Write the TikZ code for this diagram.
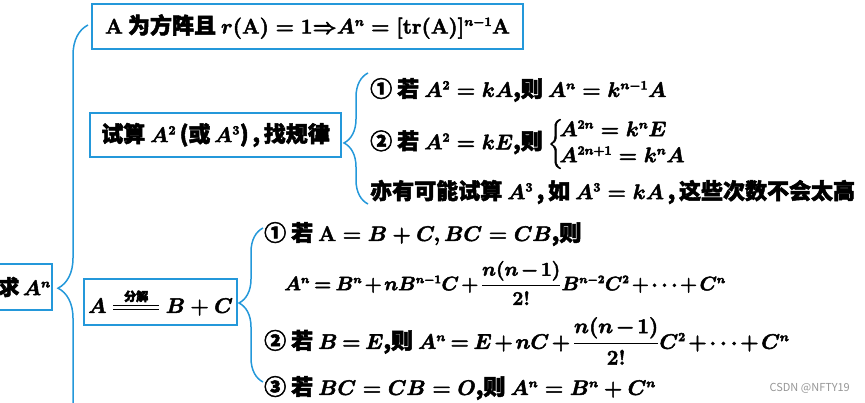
\RequirePackage{fix-cm}
\documentclass[tikz,border=0pt]{standalone}
\usepackage{amsmath}
\usepackage[no-math]{fontspec}
\setmainfont{Noto Sans CJK SC}
\usepackage{tikz}
\definecolor{mapblue}{RGB}{36,152,218}
\definecolor{markgray}{RGB}{150,150,150}
\usetikzlibrary{decorations.pathreplacing}
\DeclareMathSizes{22}{21}{12.5}{10}
\DeclareMathSizes{21}{21}{12.5}{10}
\DeclareMathSizes{20}{19.5}{11.5}{9}
\newcommand{\heavy}{\special{pdf:literal direct 2 Tr 0.5 w 0 G}}
\newcommand{\splitto}[1]{\mathrel{\overset{\text{\fontsize{12}{13}\selectfont #1}}{\vcenter{\hrule width 46pt height 1.4pt\vskip 2.4pt\hrule width 46pt height 1.4pt}}}}

\begin{document}
\begin{tikzpicture}[x=1pt,y=-1pt,
    box/.style={draw=mapblue,line width=1.8pt,inner sep=4pt},
    brc/.style={draw=mapblue,line width=1.5pt,decorate,decoration={brace}},
    item/.style={anchor=west,inner sep=0pt},
    tight/.style={execute at begin node={\medmuskip=2mu\thickmuskip=3.5mu}},
    every node/.style={font=\fontsize{22}{26}\selectfont\bfseries\boldmath\heavy}
]
\useasboundingbox (0,0) rectangle (865,402);
\clip (0,0) rectangle (865,402);

% boxes
\node[box, anchor=east, inner sep=1.5pt, text width=67pt, align=right, minimum height=46pt,
      font=\fontsize{21}{25}\selectfont\bfseries\boldmath\heavy] (root) at (53,287) {求\,$A^n$};
\node[box, minimum width=431pt, minimum height=45pt] (rank) at (307.5,26.5) {$\mathbf{A}$\hspace{5pt}为方阵且\hspace{5pt}$r(\mathbf{A})=1{\Rightarrow}A^n=[\mathbf{tr}(\mathbf{A})]^{n-1}\mathbf{A}$};
\node[box, minimum width=251pt, minimum height=44pt] (trial) at (215.5,135) {试算 $A^2$\,(或\,$A^3$)\,,\,找规律};
\node[box, minimum width=143pt, minimum height=46pt] (split) at (160.5,302) {$A\splitto{分解}B+C$};

% rules found by trial
\node[item] (pow1) at (370,90) {① 若 $A^2=kA$,则 $A^n=k^{n-1}A$};
\node[item] (pow2) at (370,144) {② 若 $A^2=kE$,则 $\bigg\{\!\begin{array}{@{}l@{}}A^{2n}=k^nE\\[0pt]A^{2n+1}=k^nA\end{array}$};
\node[item] (pow3) at (370,192) {亦有可能试算 $A^3$\,,\,如 $A^3=kA$\,,\,这些次数不会太高};

% rules for A = B + C
\node[item] (sum1) at (264,234) {① 若 $\mathbf{A}=B+C,BC=CB$,则};
\node[item, tight, font=\fontsize{20}{24}\selectfont\bfseries\boldmath\heavy] (sum2) at (284,283) {$A^n=B^n+nB^{n-1}C+\dfrac{n(n-1)}{2!}B^{n-2}C^2+\cdots+C^n$};
\node[item, tight] (sum3) at (264,341) {② 若 $B=E$,则 $A^n=E+nC+\dfrac{n(n-1)}{2!}C^2+\cdots+C^n$};
\node[item] (sum4) at (264,388) {③ 若 $BC=CB=O$,则 $A^n=B^n+C^n$};

\node[anchor=east, inner sep=0pt, text=markgray, font=\fontsize{11}{13}\selectfont] (mark) at (850,388) {CSDN @NFTY19};

% braces
\coordinate (b0top) at (88,25);
\coordinate (b0bot) at (88,460);
\coordinate (b1top) at (368,73);
\coordinate (b1bot) at (368,204);
\coordinate (b2top) at (263,228);
\coordinate (b2bot) at (263,382);
\draw[brc, decoration={amplitude=30pt,aspect=0.395}] (b0bot) -- (b0top);
\draw[brc, decoration={amplitude=24pt,aspect=0.466}] (b1bot) -- (b1top);
\draw[brc, decoration={amplitude=24pt,aspect=0.513}] (b2bot) -- (b2top);
\end{tikzpicture}
\end{document}
